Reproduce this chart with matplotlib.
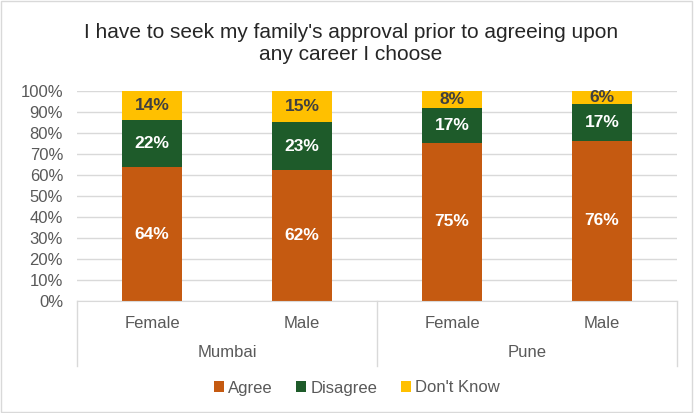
import numpy as np
import matplotlib
matplotlib.use('Agg')
import matplotlib.pyplot as plt
from matplotlib.patches import Rectangle
from matplotlib.lines import Line2D

plt.rcParams['font.family'] = ['Liberation Sans', 'DejaVu Sans']

title = "I have to seek my family's approval prior to agreeing upon\nany career I choose"
genders = ['Female', 'Male', 'Female', 'Male']
cities = ['Mumbai', 'Pune']
series = ['Agree', 'Disagree', "Don't Know"]
agree = [63.7, 62.3, 75.4, 76.2]
disagree = [22.3, 23.0, 16.6, 17.4]
dont_know = [14.0, 14.7, 8.0, 6.4]
colors = ['#C55A11', '#1E5B2A', '#FFC000']
label_colors = ['white', 'white', '#404040']

fig = plt.figure(figsize=(6.94, 4.13), dpi=100)
fig.patches.append(Rectangle((0.002, 0.003), 0.995, 0.994, transform=fig.transFigure,
                             fill=False, edgecolor='#D9D9D9', linewidth=1))
ax = fig.add_axes([77/694, 1-301/413, 600/694, 210/413])

x = np.arange(len(genders))
bottom = np.zeros(len(genders))
for vals, col, lc, name in zip([agree, disagree, dont_know], colors, label_colors, series):
    vals = np.array(vals)
    ax.bar(x, vals, 0.395, bottom=bottom, color=col, label=name, zorder=2)
    for xi, b, v in zip(x, bottom, vals):
        ax.text(xi, b + v/2, '{:.0f}%'.format(v), ha='center', va='center',
                color=lc, fontsize=12.5, fontweight='bold', zorder=3)
    bottom += vals

ax.set_xlim(-0.5, 3.5)
ax.set_ylim(0, 100)
ax.set_yticks(np.arange(0, 101, 10))
ax.set_yticklabels(['{}%'.format(v) for v in range(0, 101, 10)], fontsize=12, color='#595959')
ax.tick_params(axis='y', length=0, pad=10)
ax.set_xticks([])
ax.grid(axis='y', color='#D9D9D9', linewidth=1, zorder=0)
for s in ['top', 'right', 'left']:
    ax.spines[s].set_visible(False)
ax.spines['bottom'].set_color('#D9D9D9')

# category box under the axis
for xv in [-0.5, 1.5, 3.5]:
    ax.add_line(Line2D([xv, xv], [0, -31], color='#D9D9D9', lw=1, clip_on=False))
for xi, g in zip(x, genders):
    ax.text(xi, -10.5, g, ha='center', va='center', fontsize=12, color='#595959')
for i, c in enumerate(cities):
    ax.text(0.5 + 2*i, -24.5, c, ha='center', va='center', fontsize=12, color='#595959')

fig.text(351/694, 1-43/413, title, ha='center', va='center', fontsize=15,
         color='#262626', linespacing=1.2)

ax.legend(loc='center', bbox_to_anchor=(357/694, 1-388/413), bbox_transform=fig.transFigure,
          ncol=3, frameon=False, fontsize=12, handlelength=0.6, handleheight=0.6,
          handletextpad=0.25, columnspacing=1.4, labelcolor='#595959')

fig.savefig('out.png', dpi=100)
